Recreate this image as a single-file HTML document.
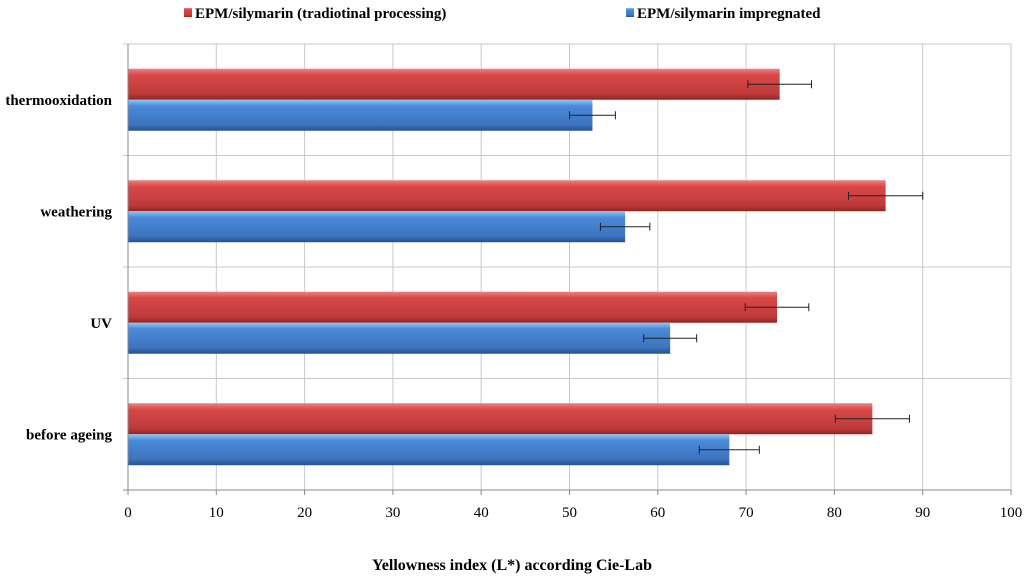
<!DOCTYPE html>
<html><head><meta charset="utf-8"><style>
body{margin:0;background:#fff}
svg text{font-family:"Liberation Serif",serif}
</style></head><body>
<svg id="c" width="1024" height="583">
<defs>
<linearGradient id="gr" x1="0" y1="0" x2="0" y2="1"><stop offset="0" stop-color="#f08080"/><stop offset="0.2" stop-color="#d84848"/><stop offset="0.8" stop-color="#c03a3a"/><stop offset="1" stop-color="#8c2626"/></linearGradient>
<linearGradient id="gb" x1="0" y1="0" x2="0" y2="1"><stop offset="0" stop-color="#8cc8f8"/><stop offset="0.2" stop-color="#4a8ad8"/><stop offset="0.8" stop-color="#3c74c0"/><stop offset="1" stop-color="#28508c"/></linearGradient>
</defs>
<g id="grid"></g><g id="bars"></g><g id="axes"></g>
<rect x="184" y="8" width="8" height="9" fill="url(#gr)"/>
<text x="195" y="18" font-size="15" font-weight="bold">EPM/silymarin (tradiotinal processing)</text>
<rect x="626" y="8" width="8" height="9" fill="url(#gb)"/>
<text x="637" y="18" font-size="15" font-weight="bold">EPM/silymarin impregnated</text>
<text x="512" y="570" font-size="16" font-weight="bold" text-anchor="middle">Yellowness index (L*) according Cie-Lab</text>
</svg>
<script>
const categories=["thermooxidation","weathering","UV","before ageing"];
const traditional=[73.8,85.8,73.5,84.3];
const traditionalErr=[3.6,4.2,3.6,4.2];
const impregnated=[52.6,56.3,61.4,68.1];
const impregnatedErr=[2.6,2.8,3.0,3.4];
const ticks=[0,10,20,30,40,50,60,70,80,90,100];
const NS="http://www.w3.org/2000/svg";
const X0=128,X1=1011,Y0=44,Y1=490;
const x=v=>X0+(X1-X0)*v/100;
const band=(Y1-Y0)/categories.length;
function mk(p,t,a){const e=document.createElementNS(NS,t);for(const k in a)e.setAttribute(k,a[k]);p.appendChild(e);return e;}
const grid=document.getElementById('grid'),bars=document.getElementById('bars'),axes=document.getElementById('axes');
ticks.forEach(t=>{
 const g=mk(grid,'line',{x1:x(t),x2:x(t),y1:Y0,y2:Y1,stroke:'#c8c8c8'});
 
 
 const l=mk(axes,'text',{x:x(t),y:517,'font-size':15,'text-anchor':'middle'});l.textContent=t;
 
 
 mk(axes,'line',{x1:x(t),x2:x(t),y1:Y1,y2:Y1+5,stroke:'#888'});
});
for(let i=0;i<=categories.length;i++){
 const y=Y0+i*band;
 const g=mk(grid,'line',{x1:X0-5,x2:X1,y1:y,y2:y,stroke:i==categories.length?'#888':'#c8c8c8'});
 
 
}
mk(axes,'line',{x1:X0,x2:X0,y1:Y0,y2:Y1,stroke:'#888'});
const bh=31;
categories.forEach((c,i)=>{
 const cy=Y0+i*band+band/2;
 const lab=mk(axes,'text',{x:112,y:cy+5,'font-size':15,'font-weight':'bold','text-anchor':'end'});lab.textContent=c;
 
 
 [[traditional,traditionalErr,'url(#gr)',cy-bh,'bar-traditional'],[impregnated,impregnatedErr,'url(#gb)',cy,'bar-impregnated']].forEach(([vals,errs,f,y,n])=>{
  const r=mk(bars,'rect',{x:X0,y:y,width:x(vals[i])-X0,height:bh,fill:f});
  
  
  const ey=y+bh/2,a=x(vals[i]-errs[i]),b=x(vals[i]+errs[i]);
  const e=mk(bars,'path',{d:`M${a},${ey}H${b}M${a},${ey-4}V${ey+4}M${b},${ey-4}V${ey+4}`,stroke:'#222',fill:'none','stroke-width':1});
  
  
 });
});
</script>
</body></html>
